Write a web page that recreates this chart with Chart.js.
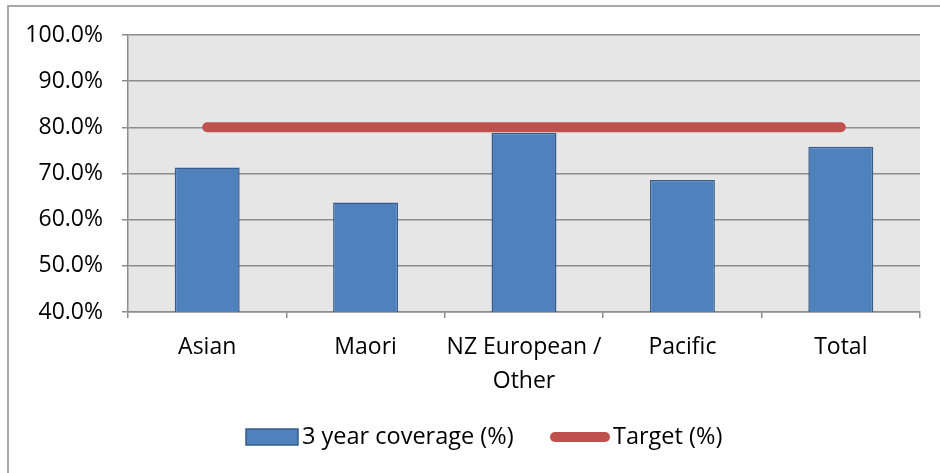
<!DOCTYPE html>
<html>
<head>
<meta charset="utf-8">
<script src="https://cdn.jsdelivr.net/npm/chart.js@4"></script>
<style>
  html, body { margin: 0; padding: 0; background: #fff; }
</style>
</head>
<body>
<canvas id="grafica" width="940" height="473"></canvas>
<script>
const categories = ['Asian', 'Maori', ['NZ European /', 'Other'], 'Pacific', 'Total'];
const coverage = [71.3, 63.7, 78.8, 68.6, 75.8];
const target = [80, 80, 80, 80, 80];
const yMin = 40, yMax = 100, yStep = 10;

const fuente = 'Open Sans';

// grey plot area + outer frame
const fondo = {
  id: 'fondo',
  beforeDraw(chart) {
    const { ctx, chartArea: a } = chart;
    ctx.save();
    ctx.fillStyle = '#e6e6e6';
    ctx.fillRect(a.left, a.top, a.right - a.left, a.bottom - a.top);
    ctx.strokeStyle = '#8c8c8c';
    ctx.lineWidth = 1.5;
    ctx.beginPath();
    ctx.moveTo(8, chart.height);
    ctx.lineTo(8, 6);
    ctx.lineTo(chart.width, 6);
    ctx.stroke();
    ctx.restore();
  }
};

// legend drawn by hand so the spacing looks like the excel one
const leyenda = {
  id: 'leyenda',
  afterDraw(chart) {
    const ctx = chart.ctx;
    const ds = chart.data.datasets;
    const y = 437;
    ctx.save();
    ctx.font = '23.5px "' + fuente + '"';
    ctx.textBaseline = 'middle';
    // bar item
    ctx.fillStyle = ds[0].backgroundColor;
    ctx.fillRect(246, y - 8, 52, 16);
    ctx.strokeStyle = ds[0].borderColor;
    ctx.lineWidth = 1.5;
    ctx.strokeRect(246, y - 8, 52, 16);
    ctx.fillStyle = '#000';
    ctx.fillText(ds[0].label, 302, y);
    // line item
    ctx.strokeStyle = ds[1].borderColor;
    ctx.lineWidth = ds[1].borderWidth;
    ctx.lineCap = 'round';
    ctx.beginPath();
    ctx.moveTo(555, y);
    ctx.lineTo(605, y);
    ctx.stroke();
    ctx.fillText(ds[1].label, 613, y);
    ctx.restore();
  }
};

const grafica = document.getElementById('grafica');
var chart = new Chart(grafica, {
  type: 'bar',
  data: {
    labels: categories,
    datasets: [
      {
        label: '3 year coverage (%)',
        data: coverage,
        backgroundColor: '#4f81bd',
        borderColor: '#385d8a',
        borderWidth: 1.5,
        barPercentage: 0.41,
        categoryPercentage: 1,
        order: 2
      },
      {
        type: 'line',
        label: 'Target (%)',
        data: target,
        borderColor: '#c0504d',
        backgroundColor: '#c0504d',
        borderWidth: 10,
        borderCapStyle: 'round',
        pointRadius: 0,
        order: 1
      }
    ]
  },
  options: {
    responsive: false,
    animation: false,
    layout: { padding: { left: 8, right: 20, top: 35, bottom: 61 } },
    plugins: {
      tooltip: { enabled: false },
      legend: { display: false }
    },
    scales: {
      x: {
        grid: { drawOnChartArea: false, drawTicks: true, tickLength: 6, color: '#8c8c8c', lineWidth: 1.5 },
        border: { color: '#8c8c8c', width: 1.5 },
        ticks: {
          font: { family: fuente, size: 23, lineHeight: 1.46 },
          color: '#000',
          padding: 13,
          maxRotation: 0,
          autoSkip: false
        },
        afterFit(scale) { scale.height = 100; }
      },
      y: {
        min: yMin,
        max: yMax,
        grid: { color: '#8c8c8c', lineWidth: 1.5, tickLength: 6 },
        border: { color: '#8c8c8c', width: 1.5 },
        ticks: {
          stepSize: yStep,
          font: { family: fuente, size: 23 },
          color: '#000',
          padding: 19,
          callback: v => v.toFixed(1) + '%'
        },
        afterFit(scale) { scale.width = 120; }
      }
    }
  },
  plugins: [fondo, leyenda]
});
</script>
</body>
</html>
